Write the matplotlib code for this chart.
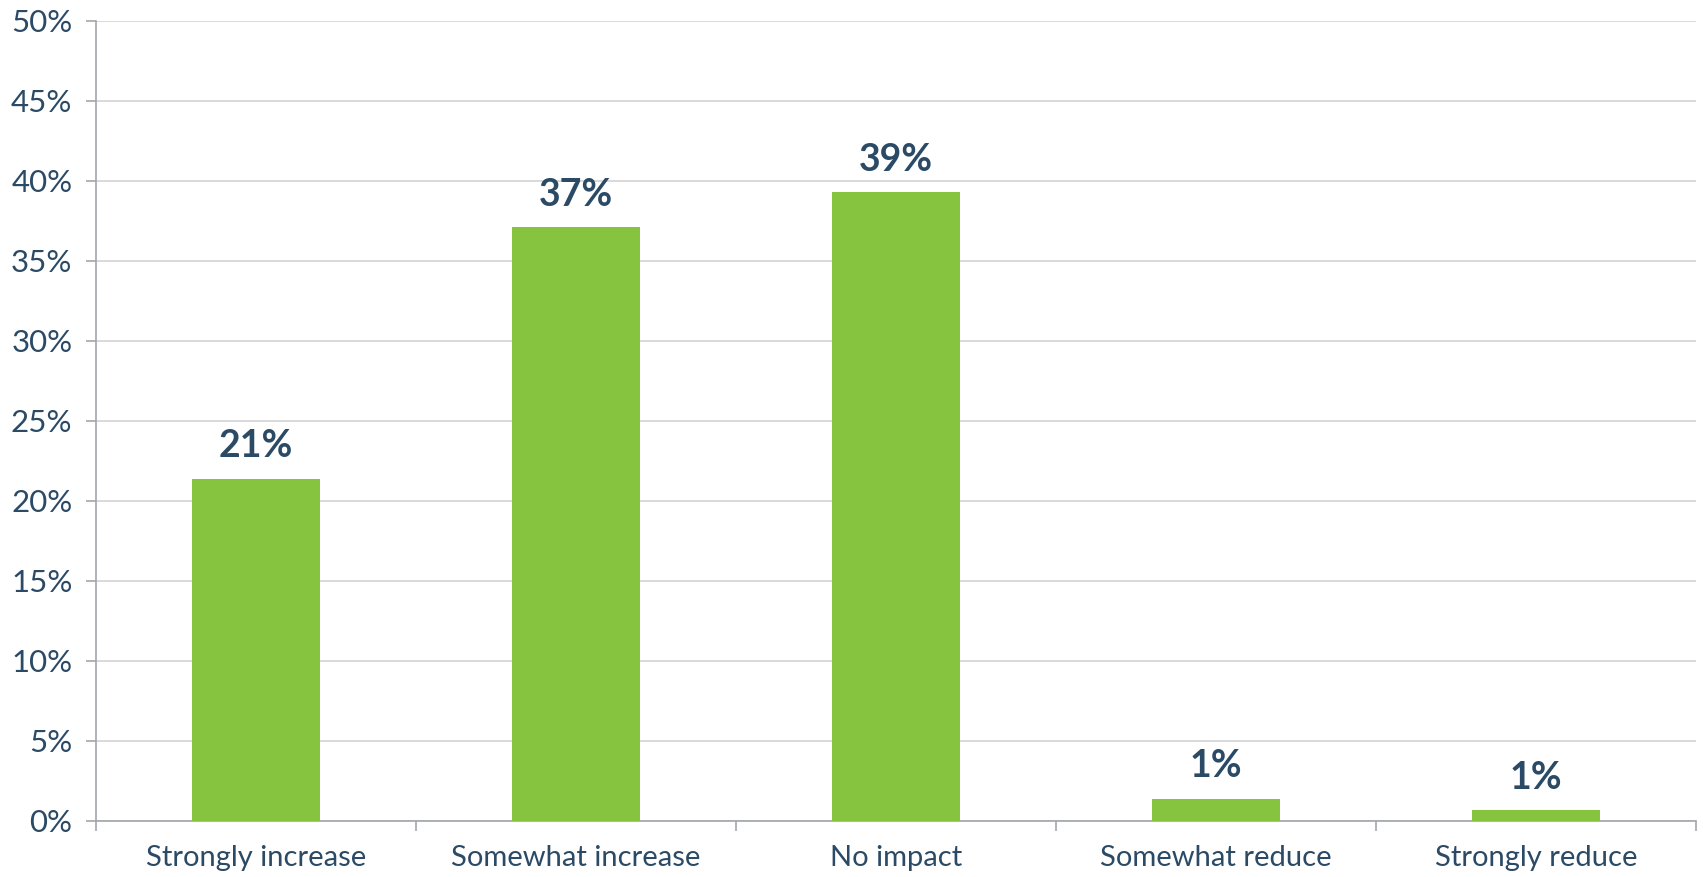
import matplotlib.pyplot as plt
import numpy as np

categories = ["Strongly increase", "Somewhat increase", "No impact", "Somewhat reduce", "Strongly reduce"]
values = [21.4, 37.1, 39.3, 1.4, 0.7]
labels = ["21%", "37%", "39%", "1%", "1%"]
yticks = [0, 5, 10, 15, 20, 25, 30, 35, 40, 45, 50]

text_color = "#2B4A66"
bar_color = "#86C440"
grid_color = "#D3D3D3"
axis_color = "#A2A6AC"

plt.rcParams['font.family'] = ['Lato', 'DejaVu Sans']

fig = plt.figure(figsize=(17.03, 8.77), dpi=100)
ax = fig.add_axes([96 / 1703, 1 - 821 / 877, 1600 / 1703, 800 / 877])

x = np.arange(len(categories))
bars = ax.bar(x, values, width=0.4, color=bar_color, zorder=3)

for b, lab in zip(bars, labels):
    ax.annotate(lab, (b.get_x() + b.get_width() / 2, b.get_height()),
                xytext=(0, 11), textcoords="offset points",
                ha="center", va="bottom", fontsize=27, fontweight="bold",
                color=text_color)

ax.set_xlim(-0.5, len(categories) - 0.5)
ax.set_ylim(0, 50)
ax.set_yticks(yticks)
ax.set_yticklabels([f"{t}%" for t in yticks])
ax.set_xticks(x)
ax.set_xticklabels(categories)
ax.set_xticks(np.arange(-0.5, len(categories)), minor=True)

ax.tick_params(axis="x", which="major", length=0, pad=17, labelsize=21, labelcolor=text_color)
ax.tick_params(axis="x", which="minor", length=7, width=1.2, color=axis_color)
ax.tick_params(axis="y", length=7, width=1.2, color=axis_color, pad=10, labelsize=22.5, labelcolor=text_color)

ax.yaxis.grid(True, color=grid_color, linewidth=1.2, zorder=0)
ax.set_axisbelow(True)

for s in ["top", "right"]:
    ax.spines[s].set_visible(False)
for s in ["left", "bottom"]:
    ax.spines[s].set_color(axis_color)
    ax.spines[s].set_linewidth(1.2)

fig.savefig("out.png", dpi=100)
